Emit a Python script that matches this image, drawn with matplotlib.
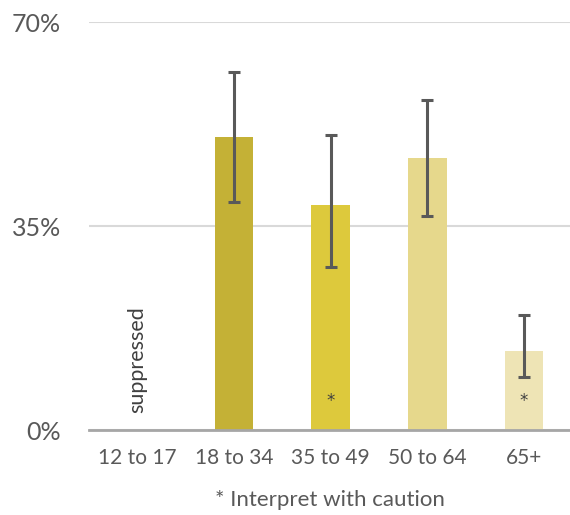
import matplotlib
matplotlib.use('Agg')
import matplotlib.pyplot as plt
import numpy as np

plt.rcParams['font.family'] = ['Lato', 'DejaVu Sans']

# data
categories = ['12 to 17', '18 to 34', '35 to 49', '50 to 64', '65+']
values = [np.nan, 50.3, 38.6, 46.6, 13.6]
err_low = [np.nan, 39.2, 27.9, 36.7, 9.1]
err_high = [np.nan, 61.4, 50.6, 56.7, 19.7]
caution = [False, False, True, False, True]
colors = ['#C4B136', '#C4B136', '#DDC93C', '#E6D88C', '#EEE4B5']
text_col = '#595959'

fig = plt.figure(figsize=(5.7, 5.15), dpi=100)
ax = fig.add_axes([0.156, 0.165, 0.848, 0.792])

x = np.arange(len(categories))
vals = np.array(values)
lo = vals - np.array(err_low)
hi = np.array(err_high) - vals
ax.bar(x, np.nan_to_num(vals), width=0.4, color=colors, zorder=2)
ax.errorbar(x, vals, yerr=[lo, hi], fmt='none', ecolor='#595959',
            elinewidth=2.2, capsize=4.5, capthick=2.2, zorder=3)

# caution markers
for i, c in enumerate(caution):
    if c:
        ax.text(x[i], 5.0, '*', ha='center', va='center', fontsize=12,
                color='#404040', family='DejaVu Sans')

ax.text(0, 3.0, 'suppressed', rotation=90, ha='center', va='bottom',
        fontsize=15.5, color='#404040')

ax.set_xlim(-0.5, len(categories) - 0.5)
ax.set_ylim(0, 70)
ax.set_yticks([0, 35, 70])
ax.set_yticklabels(['0%', '35%', '70%'])
ax.set_xticks(x)
ax.set_xticklabels(categories)
ax.tick_params(axis='y', length=0, pad=20, labelsize=18, labelcolor=text_col)
ax.tick_params(axis='x', length=0, pad=13, labelsize=15, labelcolor=text_col)
ax.yaxis.grid(True, color='#D9D9D9', linewidth=1.5, zorder=0)
ax.set_axisbelow(True)
for s in ['top', 'right', 'left']:
    ax.spines[s].set_visible(False)
ax.spines['bottom'].set_color('#A6A6A6')
ax.spines['bottom'].set_linewidth(2)
ax.spines['bottom'].set_zorder(4)

fig.text(0.579, 0.030, '* Interpret with caution', ha='center', va='center',
         fontsize=16, color=text_col)

fig.savefig('out.png', dpi=100)
